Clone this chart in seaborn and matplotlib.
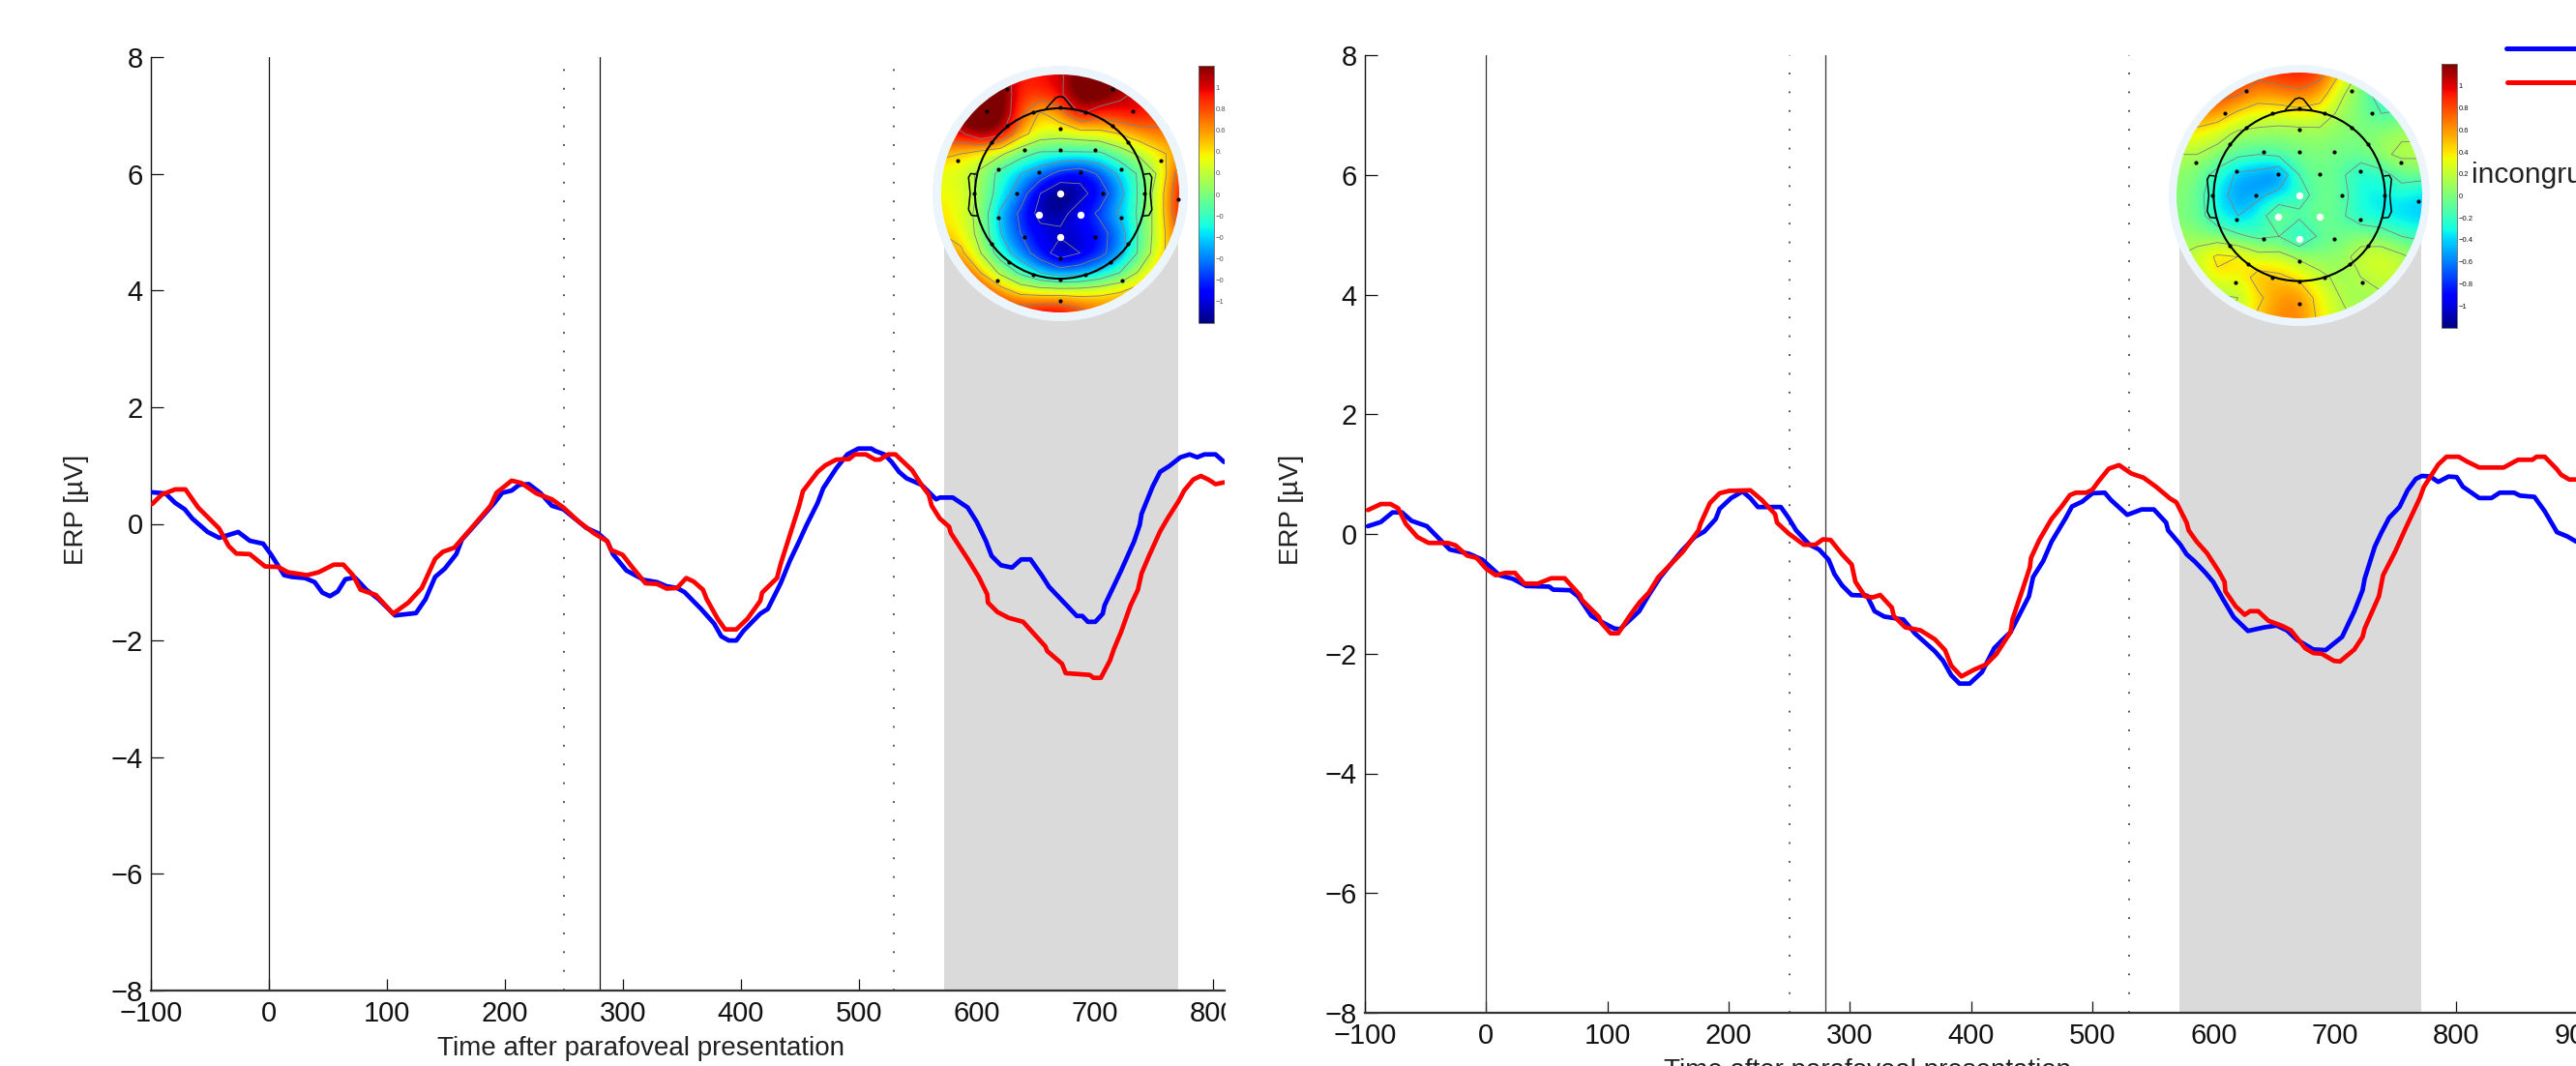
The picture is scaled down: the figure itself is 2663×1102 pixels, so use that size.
import numpy as np
import matplotlib
matplotlib.use('Agg')
import matplotlib.pyplot as plt
from matplotlib.lines import Line2D
from matplotlib.patches import Circle, Rectangle
import seaborn as sns

# left panel curves
left_blue_t = [-98.9, -87.6, -79.5, -71.4, -64.9, -51.9, -42.2, -34.1, -26, -16.2, -4.9, 1.6, 12.9, 19.4, 30.7, 38.8, 45.3, 51.8, 58.3, 64.8, 72.9, 82.6, 92.3, 106.9, 124.7, 132.8, 140.9, 149, 158.8, 163.6, 173.3, 191.2, 197.7, 205.7, 212.2, 220.3, 230, 239.8, 249.5, 269, 278.7, 286.8, 291.6, 303, 317.6, 328.9, 337, 345.9, 352.2, 366.3, 377.3, 383.5, 389.8, 396.1, 402.4, 416.5, 422.8, 433.7, 441.6, 449.4, 455.7, 465.1, 469.8, 480.8, 490.2, 499.6, 510.6, 513.7, 521.6, 527.8, 534.1, 540.4, 553, 565.5, 568.6, 579.6, 592.2, 600, 607.8, 612.5, 620.4, 629.8, 637.6, 645.5, 654.9, 661.2, 675.3, 684.7, 689.4, 694.1, 700.4, 706.7, 708.2, 722.3, 733.3, 738, 739.6, 749, 755.3, 763.1, 772.5, 780.4, 786.7, 792.9, 802.3, 809.5]
left_blue_v = [0.54, 0.52, 0.36, 0.25, 0.09, -0.14, -0.24, -0.19, -0.14, -0.29, -0.34, -0.52, -0.88, -0.91, -0.93, -1.0, -1.18, -1.24, -1.16, -0.95, -0.92, -1.13, -1.28, -1.57, -1.53, -1.29, -0.91, -0.77, -0.52, -0.27, -0.05, 0.36, 0.53, 0.57, 0.67, 0.68, 0.53, 0.31, 0.25, -0.07, -0.16, -0.30, -0.52, -0.80, -0.96, -1.0, -1.07, -1.10, -1.17, -1.46, -1.71, -1.93, -2.0, -2.0, -1.83, -1.54, -1.46, -1.02, -0.63, -0.30, -0.02, 0.36, 0.61, 0.95, 1.19, 1.29, 1.29, 1.25, 1.19, 1.06, 0.89, 0.78, 0.67, 0.42, 0.45, 0.45, 0.28, 0.03, -0.30, -0.55, -0.71, -0.75, -0.61, -0.61, -0.88, -1.08, -1.38, -1.58, -1.58, -1.68, -1.68, -1.54, -1.40, -0.80, -0.30, -0.02, 0.17, 0.64, 0.89, 0.99, 1.14, 1.19, 1.14, 1.19, 1.19, 1.06]
left_red_t = [-98.9, -90.8, -79.5, -70.7, -60, -42.2, -34.1, -27.6, -16.2, -3.3, 8, 16.1, 32.4, 42.1, 55, 63.1, 71.2, 77.7, 90.7, 105.3, 118.2, 129.6, 140.9, 147.4, 157.1, 170.1, 187.9, 192.8, 205.7, 213.9, 226.8, 239.8, 249.5, 262.5, 275.4, 286.8, 290, 299.7, 307.8, 319.2, 328.9, 337, 345.9, 353.7, 360, 367.9, 371, 380.4, 386.7, 396.1, 405.5, 416.5, 418, 430.6, 433.7, 449.4, 452.6, 465.1, 471.4, 480.8, 491.8, 496.5, 505.9, 513.7, 517.8, 524.7, 531, 545.1, 553, 559.2, 561.7, 568.6, 576.5, 578, 592.2, 601.6, 608.8, 609.4, 617.3, 626.7, 639.2, 658, 659.6, 672.2, 675.3, 695.7, 698.8, 705.1, 712.9, 716.1, 722.3, 723.9, 730.2, 736.5, 739.6, 745.9, 755.3, 761.6, 771, 775.7, 783.5, 789.8, 796.1, 802.3, 809.5]
left_red_v = [0.34, 0.50, 0.59, 0.59, 0.28, -0.08, -0.38, -0.51, -0.52, -0.73, -0.74, -0.83, -0.88, -0.83, -0.70, -0.70, -0.88, -1.13, -1.22, -1.54, -1.35, -1.10, -0.60, -0.48, -0.41, -0.11, 0.31, 0.53, 0.74, 0.70, 0.52, 0.42, 0.28, 0.04, -0.16, -0.30, -0.45, -0.53, -0.74, -1.02, -1.03, -1.11, -1.10, -0.93, -0.99, -1.13, -1.29, -1.63, -1.81, -1.81, -1.63, -1.32, -1.18, -0.93, -0.69, 0.31, 0.56, 0.89, 1.0, 1.10, 1.11, 1.19, 1.19, 1.10, 1.10, 1.19, 1.19, 0.92, 0.67, 0.50, 0.31, 0.09, -0.05, -0.16, -0.60, -0.91, -1.21, -1.35, -1.51, -1.61, -1.68, -2.10, -2.18, -2.40, -2.56, -2.59, -2.64, -2.64, -2.34, -2.15, -1.85, -1.76, -1.40, -1.13, -0.85, -0.55, -0.13, 0.09, 0.39, 0.57, 0.76, 0.82, 0.76, 0.68, 0.71]

# right panel curves
right_blue_t = [-97.5, -86.8, -77.3, -69.4, -61.6, -48.9, -30, -14.2, -3.2, 11, 22.1, 33.1, 52, 55.2, 69.4, 75.7, 86.8, 96.2, 105.7, 110.4, 126.2, 134.1, 143.6, 160.9, 172, 179.9, 189.3, 192.5, 202, 211.4, 217.8, 224.1, 243, 249.3, 255.6, 266.7, 274.5, 282.4, 287.2, 293.5, 301.4, 314, 320.3, 328.2, 344, 353.5, 370, 376.8, 383.5, 390.3, 398.7, 408.8, 418.9, 425.7, 432.4, 447.6, 451, 459.4, 466.2, 478, 483.1, 491.5, 499.9, 510.1, 515.1, 528.6, 535.4, 540.4, 550.6, 560.7, 562.4, 572.5, 577.6, 584.3, 592.8, 599.5, 607.9, 616.4, 628.2, 641.7, 651.8, 660.3, 668.7, 682.2, 692.3, 705.8, 715.9, 722.7, 724.4, 732.8, 737.9, 744.6, 753.1, 759.8, 766.6, 771.6, 778.4, 785.1, 793.6, 800.3, 805.4, 818.9, 829, 835.8, 847.6, 852.6, 864.4, 872.9, 883, 891.4, 899.2]
right_blue_v = [0.13, 0.20, 0.36, 0.36, 0.22, 0.13, -0.26, -0.33, -0.43, -0.69, -0.75, -0.87, -0.88, -0.93, -0.94, -1.04, -1.37, -1.48, -1.58, -1.59, -1.29, -1.02, -0.72, -0.29, -0.05, 0.04, 0.25, 0.42, 0.60, 0.71, 0.60, 0.45, 0.45, 0.27, 0.06, -0.18, -0.26, -0.43, -0.67, -0.86, -1.02, -1.03, -1.29, -1.38, -1.43, -1.66, -1.96, -2.12, -2.36, -2.50, -2.50, -2.31, -1.91, -1.77, -1.64, -1.04, -0.72, -0.45, -0.13, 0.27, 0.46, 0.54, 0.68, 0.69, 0.57, 0.32, 0.37, 0.41, 0.41, 0.19, 0.06, -0.18, -0.34, -0.46, -0.64, -0.80, -1.10, -1.39, -1.62, -1.56, -1.53, -1.61, -1.77, -1.93, -1.94, -1.72, -1.29, -0.94, -0.75, -0.21, 0.01, 0.27, 0.45, 0.73, 0.92, 0.97, 0.96, 0.87, 0.96, 0.95, 0.79, 0.60, 0.60, 0.69, 0.69, 0.64, 0.62, 0.38, 0.03, -0.04, -0.13]
right_red_t = [-97.5, -86.8, -78.9, -72.6, -66.3, -56.8, -47.4, -31.6, -25.3, -15.8, -7.9, 0, 7.9, 15.8, 23.7, 31.5, 42.6, 53.6, 64.7, 77.3, 78.9, 93.1, 94.7, 102.6, 108.9, 118.3, 126.2, 134.1, 142, 162.5, 175.1, 176.7, 184.6, 192.5, 200.4, 217.8, 227.2, 238.3, 239.8, 249.3, 262, 271.4, 277.7, 284, 293.5, 301.4, 304.5, 312.4, 318.7, 325, 334.5, 336.1, 345.6, 358.2, 370, 378.4, 383.5, 391.9, 402.1, 412.2, 420.6, 432.4, 434.1, 442.6, 448.3, 449.3, 456.1, 466.2, 474.6, 481.4, 486.4, 494.9, 499.9, 505, 513.4, 521.9, 532, 542.1, 552.3, 564.1, 569.1, 577.6, 579.3, 586, 594.4, 604.6, 608.9, 609.6, 618.1, 625.5, 629.9, 636.6, 645.1, 656.9, 663.6, 675.4, 682.2, 688.9, 699.1, 704.1, 715.9, 722.7, 724.4, 736.2, 739.6, 749.7, 758.1, 769.9, 773.3, 785.1, 791.9, 802, 808.8, 818.9, 839.1, 850.9, 862.8, 866.1, 872.9, 883, 886.4, 893.1, 899.2]
right_red_v = [0.40, 0.50, 0.50, 0.43, 0.17, -0.05, -0.15, -0.15, -0.19, -0.36, -0.40, -0.58, -0.69, -0.65, -0.65, -0.83, -0.83, -0.74, -0.74, -1.02, -1.10, -1.39, -1.48, -1.66, -1.66, -1.37, -1.15, -0.98, -0.72, -0.29, 0.06, 0.17, 0.52, 0.68, 0.72, 0.73, 0.57, 0.33, 0.19, 0.01, -0.18, -0.18, -0.09, -0.10, -0.34, -0.51, -0.80, -1.04, -1.06, -1.02, -1.23, -1.37, -1.56, -1.61, -1.76, -1.94, -2.20, -2.38, -2.27, -2.18, -2.01, -1.64, -1.42, -0.91, -0.56, -0.40, -0.10, 0.25, 0.46, 0.65, 0.69, 0.69, 0.74, 0.88, 1.09, 1.15, 1.01, 0.94, 0.79, 0.59, 0.53, 0.19, 0.06, -0.13, -0.32, -0.64, -0.80, -0.96, -1.21, -1.35, -1.29, -1.29, -1.45, -1.54, -1.61, -1.91, -1.99, -2.0, -2.12, -2.13, -1.93, -1.72, -1.58, -1.04, -0.69, -0.29, 0.09, 0.60, 0.79, 1.16, 1.29, 1.29, 1.21, 1.11, 1.11, 1.24, 1.24, 1.29, 1.29, 1.08, 0.99, 0.91, 0.91]

x_ticks = list(range(-100, 1000, 100))
y_ticks = [-8, -6, -4, -2, 0, 2, 4, 6, 8]
x_label = 'Time after parafoveal presentation'
y_label = 'ERP [µV]'
shade_span = [572, 771]
solid_marks = [0, 280]
dotted_marks = [250, 530]

# scalp maps, rows go top to bottom
topo_left = [
    [1.2, 1.2, 1.2, 1.2, 0.9, 0.95, 1.0, 1.3, 1.3, 1.25, 1.0, 0.9, 0.9],
    [1.3, 1.3, 1.3, 1.3, 0.85, 0.9, 1.0, 1.35, 1.35, 1.1, 1.0, 0.9, 0.9],
    [1.2, 1.3, 1.35, 1.3, 0.8, 0.4, 0.6, 1.05, 0.85, 0.95, 1.0, 0.85, 0.7],
    [1.0, 1.0, 1.3, 1.1, 0.55, 0.3, 0.25, 0.3, 0.35, 0.45, 0.6, 0.7, 0.7],
    [0.5, 0.45, 0.3, 0.2, -0.05, -0.2, -0.2, -0.2, -0.2, 0, 0.2, 0.4, 0.55],
    [0.3, 0.25, 0.1, -0.25, -0.45, -0.6, -0.85, -0.95, -0.7, -0.4, -0.1, 0.2, 0.9],
    [0.35, 0.3, 0.1, -0.3, -0.6, -1.05, -1.3, -1.15, -0.9, -0.55, -0.1, 0.3, 1.0],
    [0.4, 0.3, 0.05, -0.5, -0.8, -1.15, -1.15, -0.9, -0.7, -0.4, -0.1, 0.3, 1.0],
    [0.45, 0.35, 0.05, -0.45, -0.75, -0.95, -1.0, -1.0, -0.85, -0.6, -0.1, 0.3, 0.8],
    [0.7, 0.5, 0.15, -0.3, -0.6, -0.9, -1.2, -1.05, -0.85, -0.55, -0.1, 0.35, 0.7],
    [1.0, 0.85, 0.45, 0.1, -0.2, -0.45, -0.6, -0.55, -0.4, -0.15, 0.2, 0.55, 0.7],
    [1.1, 1.1, 0.9, 0.6, 0.4, 0.35, 0.35, 0.35, 0.4, 0.45, 0.6, 0.7, 0.7],
    [1.1, 1.1, 1.1, 1.0, 0.95, 1.05, 1.05, 0.85, 0.7, 0.7, 0.7, 0.7, 0.7],
]
topo_right = [
    [0.9, 0.9, 0.9, 0.85, 0.85, 0.9, 0.95, 0.85, 0.45, 0.1, -0.2, -0.3, -0.3],
    [0.9, 0.9, 0.85, 0.8, 0.6, 0.65, 0.7, 0.6, 0.2, 0, -0.3, -0.4, -0.3],
    [0.7, 0.65, 0.6, 0.4, 0.3, 0.3, 0.35, 0.3, 0.1, 0, -0.15, -0.1, -0.05],
    [0.35, 0.35, 0.25, 0.1, 0.08, 0.05, 0.05, 0.08, 0.03, 0, 0.05, 0.12, 0.12],
    [0.15, 0.15, 0.05, -0.1, -0.15, -0.1, 0, 0, -0.03, -0.05, 0.1, 0.2, 0.2],
    [0.05, 0, -0.25, -0.5, -0.55, -0.7, -0.15, -0.02, -0.1, -0.3, -0.25, -0.05, -0.05],
    [0.05, -0.05, -0.35, -0.55, -0.5, -0.35, -0.25, -0.05, -0.05, -0.3, -0.35, -0.3, -0.4],
    [0, -0.05, -0.3, -0.45, -0.3, 0.1, -0.1, 0, -0.1, -0.3, -0.35, -0.4, -0.45],
    [0.1, 0.05, 0, -0.1, -0.2, -0.15, -0.4, -0.1, -0.05, 0.05, 0, -0.15, -0.2],
    [0.15, 0.25, 0.5, 0.45, 0.25, 0.25, 0.1, 0.05, 0.05, 0.25, 0.3, 0.2, 0.05],
    [0.1, 0.15, 0.4, 0.3, 0.55, 0.5, 0.4, 0.2, 0.1, 0.15, 0.25, 0.2, 0.1],
    [0, 0, 0.1, 0.15, 0.4, 0.6, 0.65, 0.35, 0.15, 0.1, 0.1, 0.1, 0.1],
    [0, 0, 0.1, 0.2, 0.5, 0.65, 0.65, 0.4, 0.2, 0.1, 0.1, 0.1, 0.1],
]
elec_x = [-166, 161, -229, 225, -319, 314, 367, -197, 193, 0, 0, -83, 79, -166, 161, -215, 212, -268, 263, -215, 212, -158, 155, -83, 79, 0, 0, -111, 0, 107, -193, -67, 63, 189, -136, 132, -193, 189, -111, 107, 0]
elec_y = [324, 324, 255, 255, 103, 103, -19, -270, -270, -335, 268, 253, 253, 210, 210, 158, 158, 0, 0, -157, -157, -213, -213, -253, -253, -267, 202, 135, 135, 135, 75, 66, 66, 75, 0, 0, -74, -74, -135, -135, -202]
mark_x = [0, -67, 64, 0]
mark_y = [0, -67, -67, -135]
nose_x = [-43, -13, 0, 12, 40]
nose_y = [265, 298, 302, 298, 263]
ear_x = [-263, -278, -285, -280, -285, -276, -256]
ear_y = [60, 62, 50, 0, -50, -68, -70]
cbar_ticks = [-1, -0.8, -0.6, -0.4, -0.2, 0, 0.2, 0.4, 0.6, 0.8, 1]
cbar_labels_left = ['−1', '−0', '−0', '−0', '−0', '0', '0.', '0.', '0.6', '0.8', '1']
cbar_labels_right = ['−1', '−0.8', '−0.6', '−0.4', '−0.2', '0', '0.2', '0.4', '0.6', '0.8', '1']

W, H = 2663, 1102

sns.set_style('white')
plt.rcParams['font.family'] = ['Liberation Sans', 'DejaVu Sans']

fig = plt.figure(figsize=(W / 100, H / 100), dpi=100)


def px_axes(left, top, right, bottom):
    return fig.add_axes([left / W, 1 - bottom / H, (right - left) / W, (bottom - top) / H])


def draw_panel(box, xlim, blue, red, lab_x, lab_top, ylab_x, line_col):
    ax = px_axes(*box)
    ax.fill_between(shade_span, -8, 5, color='#dadada', lw=0, zorder=1)
    for pos in solid_marks:
        ax.axvline(pos, color=line_col, lw=0.9, zorder=2)
    for pos in dotted_marks:
        ax.axvline(pos, color='#222222', lw=1.1, ls=(0, (1.2, 11.5)), zorder=2)
    sns.lineplot(x=blue[0], y=blue[1], color='#0000ff', lw=3.4, ax=ax, estimator=None, sort=False, zorder=3)
    sns.lineplot(x=red[0], y=red[1], color='#ff0000', lw=3.4, ax=ax, estimator=None, sort=False, zorder=4)
    ax.set_xlim(*xlim)
    ax.set_ylim(-8, 8)
    ax.set_xticks([t for t in x_ticks if t <= xlim[1]])
    ax.set_yticks(y_ticks)
    ax.tick_params(direction='in', length=9, width=0.9, labelsize=21, color='#111111', labelcolor='#111111',
                   bottom=True, left=True)
    ax.tick_params(axis='x', pad=7)
    ax.tick_params(axis='y', pad=6)
    sns.despine(ax=ax)
    ax.spines['left'].set_linewidth(1)
    ax.spines['left'].set_color('#111111')
    ax.spines['bottom'].set_linewidth(1.6)
    ax.spines['bottom'].set_color('#333333')
    ax.patch.set_alpha(0)
    ax.set_xlabel(x_label, fontsize=20, color='#222222')
    ax.set_ylabel(y_label, fontsize=20, color='#222222')
    ax.xaxis.set_label_coords(lab_x / W, 1 - lab_top / H, transform=fig.transFigure)
    ax.yaxis.set_label_coords(ylab_x / W, 1 - 527 / H, transform=fig.transFigure)
    return ax


def draw_topo(center, field_r, ring_r, head_scale, grid, cbar_box, cbar_labels, cbar_col):
    cx, cy = center
    side = ring_r + 2
    ax = px_axes(cx - side, cy - side, cx + side, cy + side)
    lim = side / field_r
    ax.axis('off')
    ax.add_patch(Circle((0, 0), ring_r / field_r, fc='#ecf4fc', ec='none', zorder=1))
    values = np.array(grid)
    im = ax.imshow(values, cmap='jet', vmin=-1.2, vmax=1.2, extent=(-13 / 12, 13 / 12, -13 / 12, 13 / 12),
                   interpolation='bicubic', zorder=2)
    clip = Circle((0, 0), 1, transform=ax.transData)
    im.set_clip_path(clip)
    coords = np.linspace(-1, 1, 13)
    cs = ax.contour(coords, coords, values[::-1], levels=np.arange(-1.05, 1.1, 0.3), colors='#808080',
                    linewidths=0.6, linestyles='solid', zorder=3)
    cs.set_clip_path(clip)
    ax.set_xlim(-lim, lim)
    ax.set_ylim(-lim, lim)

    # head outline
    ax.add_patch(Circle((0, 0), 265 * head_scale, fc='none', ec='black', lw=1.5, zorder=4))
    ax.plot(np.array(nose_x) * head_scale, np.array(nose_y) * head_scale, color='black', lw=1.1, zorder=4)
    ax.plot(np.array(ear_x) * head_scale, np.array(ear_y) * head_scale, color='black', lw=1.1, zorder=4)
    ax.plot(-np.array(ear_x) * head_scale, np.array(ear_y) * head_scale, color='black', lw=1.1, zorder=4)
    ax.scatter(np.array(elec_x) * head_scale, np.array(elec_y) * head_scale, s=9, c='black', lw=0, zorder=5,
               clip_on=False)
    ax.scatter(np.array(mark_x) * head_scale, np.array(mark_y) * head_scale, s=28, c='white', lw=0, zorder=6)

    cax = px_axes(*cbar_box)
    cb = fig.colorbar(im, cax=cax)
    cb.set_ticks(cbar_ticks)
    cb.set_ticklabels(cbar_labels)
    cb.ax.tick_params(direction='in', length=2, width=0.5, labelsize=5.5, pad=1, labelcolor=cbar_col, right=True)
    cb.outline.set_linewidth(0.6)
    cb.outline.set_edgecolor('#666666')


draw_panel((156, 59, 1266, 1024), (-100, 810), (left_blue_t, left_blue_v), (left_red_t, left_red_v),
           662, 1071, 92, '#111111')
draw_panel((1411, 57, 2790, 1047), (-100, 1000), (right_blue_t, right_blue_v), (right_red_t, right_red_v),
           1931, 1094, 1348, '#333333')

draw_topo((1096, 200), 123, 132, 1 / 370, topo_left, (1239, 68, 1255, 334), cbar_labels_left, '#555555')
draw_topo((2377, 202), 127, 135, 1 / 380, topo_right, (2524, 66, 2540, 339), cbar_labels_right, '#111111')

# cut-off legend in the top right corner
fig.add_artist(Line2D([2591 / W, 1], [1 - 50 / H] * 2, color='#0000ff', lw=3.6, zorder=20))
fig.add_artist(Line2D([2592 / W, 1], [1 - 85 / H] * 2, color='#ff0000', lw=3.6, zorder=20))
fig.text(2555 / W, 1 - 189 / H, 'incongruent', fontsize=21.5, color='#222222', va='baseline', zorder=20)

# the left picture ends at 1266, so its last tick label is cut there
fig.add_artist(Rectangle((1267 / W, 1 - 1072 / H), 70 / W, 40 / H, transform=fig.transFigure,
                         fc='white', ec='none', zorder=20))

fig.savefig('out.png', dpi=100)
